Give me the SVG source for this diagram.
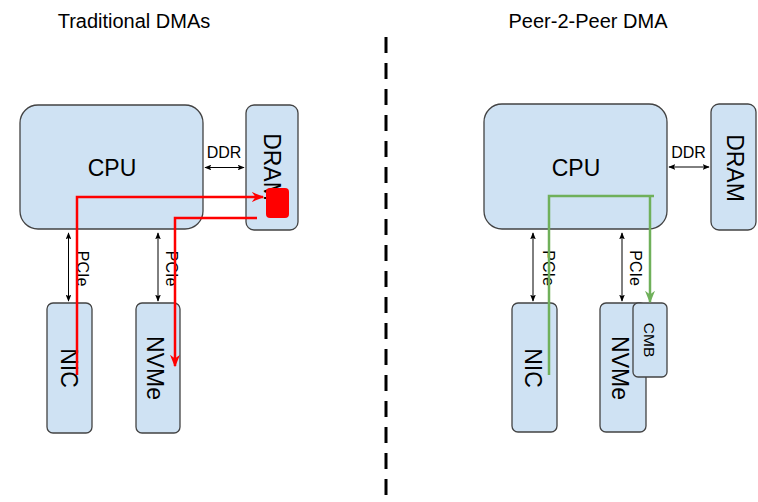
<svg xmlns="http://www.w3.org/2000/svg" width="758" height="502" viewBox="0 0 758 502">
<defs>
<style>
.box{fill:#cfe2f3;stroke:#434343;stroke-width:1.3}
.t{font-family:"Liberation Sans",Arial,sans-serif;fill:#000}
.big{font-size:23px;text-anchor:middle}
.sm{font-size:16px;text-anchor:middle}
.title{font-size:20px;text-anchor:middle}
.bl{stroke:#000;stroke-width:1;fill:none}
.red{stroke:#ff0000;stroke-width:2.5;fill:none}
.grn{stroke:#6fb05a;stroke-width:2.5;fill:none}
</style>
<marker id="ab" viewBox="0 0 10 8" refX="9" refY="4" markerWidth="7" markerHeight="5.6" markerUnits="userSpaceOnUse" orient="auto-start-reverse">
<path d="M0,0 L10,4 L0,8 L2,4 z" fill="#000"/>
</marker>
<marker id="ar" viewBox="0 0 10 8" refX="9" refY="4" markerWidth="13" markerHeight="10" markerUnits="userSpaceOnUse" orient="auto">
<path d="M0,0 L10,4 L0,8 L3,4 z" fill="#ff0000"/>
</marker>
<marker id="ag" viewBox="0 0 10 8" refX="9" refY="4" markerWidth="13" markerHeight="10" markerUnits="userSpaceOnUse" orient="auto">
<path d="M0,0 L10,4 L0,8 L3,4 z" fill="#6fb05a"/>
</marker>
</defs>
<rect width="758" height="502" fill="#fff"/>
<text class="t title" x="134" y="28">Traditional DMAs</text>
<text class="t title" x="588" y="28">Peer-2-Peer DMA</text>
<line x1="386" y1="37" x2="386" y2="502" stroke="#000" stroke-width="3" stroke-dasharray="16,10"/>

<g id="cpu-left"><rect class="box" x="20" y="105" width="183" height="124" rx="18"/><text class="t big" x="112" y="176">CPU</text></g>
<g id="dram-left"><rect class="box" x="246" y="105" width="52" height="125" rx="8"/><text class="t big" transform="translate(264,167) rotate(90)" x="0" y="0">DRAM</text></g>
<g id="nic-left"><rect class="box" x="47" y="303" width="45" height="130" rx="6"/><text class="t big" transform="translate(61,368) rotate(90)" x="0" y="0">NIC</text></g>
<g id="nvme-left"><rect class="box" x="136" y="303" width="44" height="130" rx="6"/><text class="t big" transform="translate(147,368) rotate(90)" x="0" y="0">NVMe</text></g>
<g id="buf-left"><rect x="266" y="188" width="23" height="30" rx="4" fill="#ff0000"/></g>

<g id="cpu-right"><rect class="box" x="484" y="104" width="183" height="125" rx="18"/><text class="t big" x="576" y="176">CPU</text></g>
<g id="dram-right"><rect class="box" x="711" y="104" width="45" height="126" rx="8"/><text class="t big" transform="translate(727,168) rotate(90)" x="0" y="0">DRAM</text></g>
<g id="nic-right"><rect class="box" x="512" y="303" width="45" height="129" rx="6"/><text class="t big" transform="translate(525,368) rotate(90)" x="0" y="0">NIC</text></g>
<g id="nvme-right"><rect class="box" x="600" y="303" width="46" height="129" rx="6"/><text class="t big" transform="translate(612,368) rotate(90)" x="0" y="0">NVMe</text></g>
<g id="cmb-right"><rect class="box" x="633" y="303" width="34" height="74" rx="5"/><text class="t sm" transform="translate(644,340) rotate(90)" x="0" y="0" style="font-size:15.5px">CMB</text></g>

<g id="connectors">
<line class="bl" x1="205" y1="167.5" x2="244" y2="167.5" marker-start="url(#ab)" marker-end="url(#ab)"/>
<text class="t sm" x="224" y="158">DDR</text>
<line class="bl" x1="669" y1="167" x2="709" y2="167" marker-start="url(#ab)" marker-end="url(#ab)"/>
<text class="t sm" x="688.5" y="158">DDR</text>
<line class="bl" x1="68.5" y1="233" x2="68.5" y2="301" marker-start="url(#ab)" marker-end="url(#ab)"/>
<text class="t sm" transform="translate(77,268.5) rotate(90)" x="0" y="0">PCIe</text>
<line class="bl" x1="158" y1="233" x2="158" y2="301" marker-start="url(#ab)" marker-end="url(#ab)"/>
<text class="t sm" transform="translate(166,268.5) rotate(90)" x="0" y="0">PCIe</text>
<line class="bl" x1="533" y1="233" x2="533" y2="301" marker-start="url(#ab)" marker-end="url(#ab)"/>
<text class="t sm" transform="translate(543,268) rotate(90)" x="0" y="0">PCIe</text>
<line class="bl" x1="622" y1="233" x2="622" y2="301" marker-start="url(#ab)" marker-end="url(#ab)"/>
<text class="t sm" transform="translate(630,268) rotate(90)" x="0" y="0">PCIe</text>

<path class="red" d="M77,375 L77,197 L263,197" marker-end="url(#ar)"/>
<path class="red" d="M257,218 L175,218 L175,366" marker-end="url(#ar)"/>
<path class="grn" d="M549,375 L549,196 L654,196"/>
<path class="grn" d="M650,196 L650,302" marker-end="url(#ag)"/>
</g>
</svg>
